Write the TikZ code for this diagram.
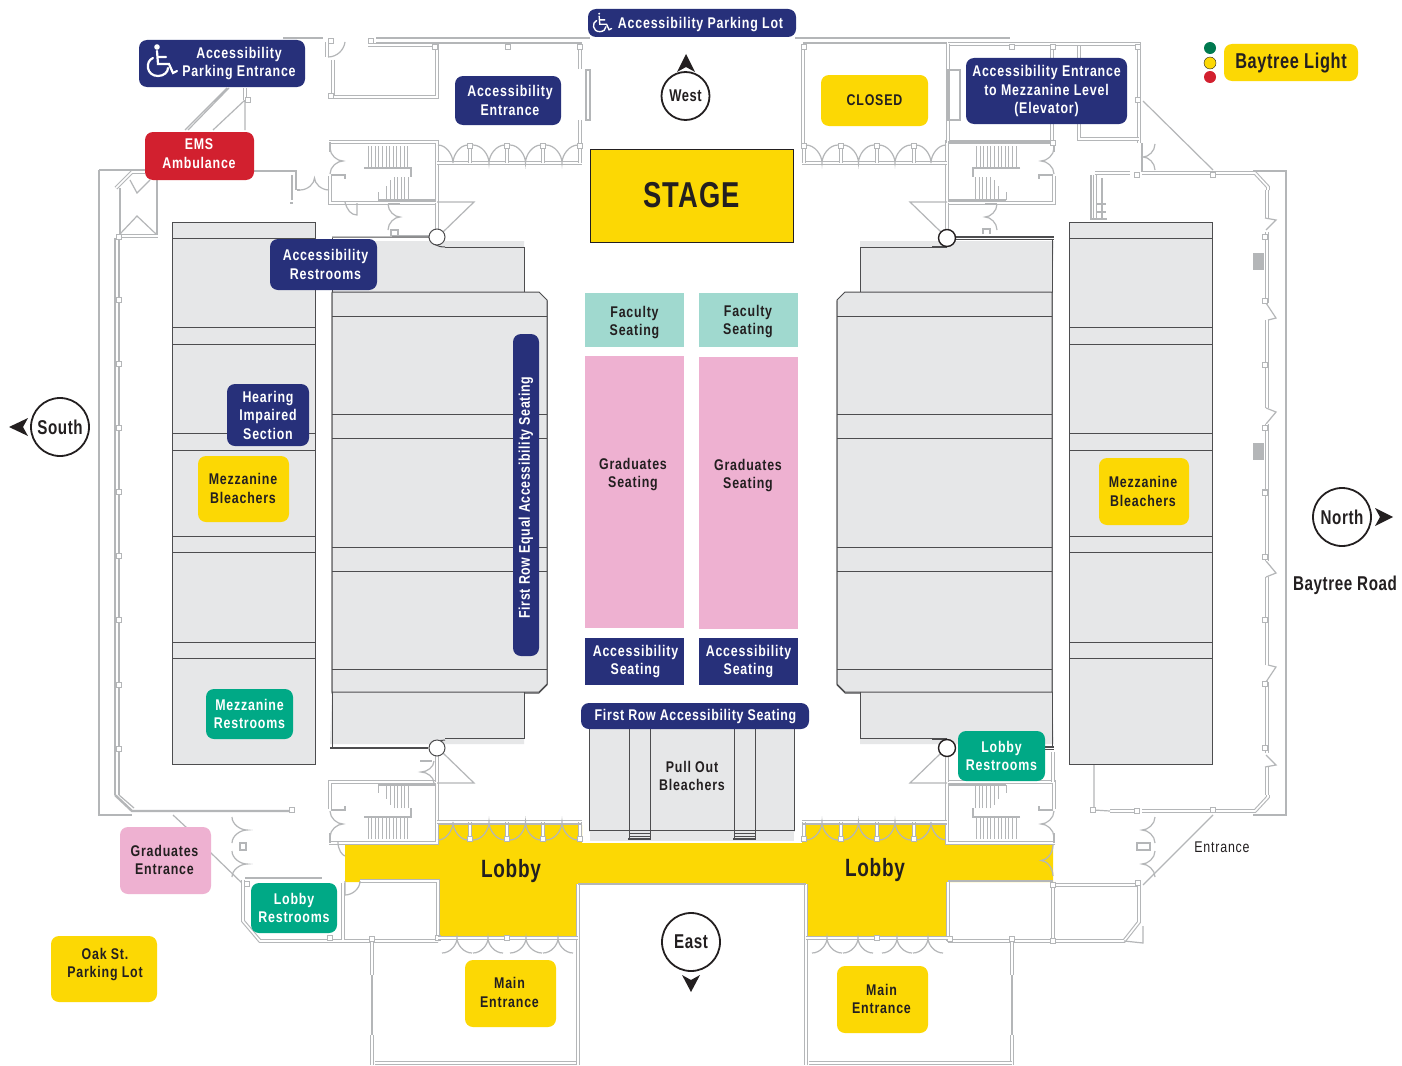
\documentclass[tikz,border=0pt]{standalone}
\usepackage{fontspec}
\setmainfont[FakeStretch=0.8,LetterSpace=5.2]{Liberation Sans}
\newfontfamily\bigf[FakeStretch=0.76,LetterSpace=3]{Liberation Sans}
\newfontfamily\longf[FakeStretch=0.8,LetterSpace=4.2]{Liberation Sans}
\definecolor{wallc}{HTML}{B4B6B8}
\definecolor{blockf}{HTML}{E6E7E8}
\definecolor{blockl}{HTML}{4D4D4F}
\definecolor{navy}{HTML}{27307A}
\definecolor{sunny}{HTML}{FCD804}
\definecolor{redc}{HTML}{D2202F}
\definecolor{tealc}{HTML}{00A986}
\definecolor{pinkc}{HTML}{EEB1D1}
\definecolor{mintc}{HTML}{A0D9CF}
\definecolor{inkc}{HTML}{231F20}
\definecolor{greenc}{HTML}{00794F}
\tikzset{
  wall/.style={draw=wallc,line width=1.1pt,double=white,double distance=1.6pt,line join=miter},
  thinw/.style={draw=wallc,line width=1.2pt},
  fatw/.style={draw=wallc,line width=2.4pt},
  block/.style={fill=blockf,draw=blockl,line width=1pt},
  blockln/.style={draw=blockl,line width=1pt},
  lab/.style={rounded corners=8pt,inner sep=0pt,align=center,font=\fontsize{15.5}{18.5}\selectfont\bfseries},
  navyb/.style={lab,fill=navy,text=white},
  yelb/.style={lab,fill=sunny,text=inkc},
  redb/.style={lab,fill=redc,text=white},
  tealb/.style={lab,fill=tealc,text=white},
  pinkb/.style={lab,fill=pinkc,text=inkc},
  plain/.style={lab,rounded corners=0pt,text=inkc},
  compass/.style={circle,draw=inkc,fill=white,line width=1.8pt,inner sep=0pt,text=inkc,font=\bigf\fontsize{20}{20}\selectfont\bfseries},
  txt/.style={inner sep=0pt,text=inkc,align=center,font=\fontsize{15.5}{18.5}\selectfont\bfseries}
}
\newcommand\lab[7]{%
  \pgfmathsetmacro\lw{#5-#3}\pgfmathsetmacro\lh{#6-#4}%
  \pgfmathsetmacro\lx{(#3+#5)/2}\pgfmathsetmacro\ly{(#4+#6)/2}%
  \node[#2,minimum width=\lw pt,minimum height=\lh pt] (#1) at (\lx,\ly) {#7};}
\newcommand\hd[4]{% door pair: x0 x1 yhinge ycusp
  \pgfmathsetmacro\xm{(#1+#2)/2}%
  \pgfmathsetmacro\aa{#1+0.55*(\xm-#1)}\pgfmathsetmacro\bb{#2-0.55*(#2-\xm)}%
  \pgfmathsetmacro\cc{#4+0.45*(#3-#4)}%
  \draw[thinw] (#1,#3) .. controls (\aa,#3) and (\xm,\cc) .. (\xm,#4)
     .. controls (\xm,\cc) and (\bb,#3) .. (#2,#3);}
\newcommand\vd[4]{% door pair: y0 y1 xhinge xcusp
  \pgfmathsetmacro\ym{(#1+#2)/2}%
  \pgfmathsetmacro\aa{#1+0.55*(\ym-#1)}\pgfmathsetmacro\bb{#2-0.55*(#2-\ym)}%
  \pgfmathsetmacro\cc{#4+0.45*(#3-#4)}%
  \draw[thinw] (#3,#1) .. controls (#3,\aa) and (\cc,\ym) .. (#4,\ym)
     .. controls (\cc,\ym) and (#3,\bb) .. (#3,#2);}
\newcommand\pil[2]{\draw[thinw,fill=white] (#1-2.5,#2-2.5) rectangle (#1+2.5,#2+2.5);}
% one corner block of the hall: stair room, door row, pivot circle
\newcommand\Quad{%
  \draw[wall] (329,142)--(437,142)--(437,203)--(330,203)--(330,176);
  \draw[thinw] (330,142)--(330,152);
  \foreach \x in {368,371.6,...,408.5}{\draw[thinw,line width=.9pt] (\x,146)--(\x,168);}
  \draw[thinw] (364,168)--(411,168)--(411,177);
  \foreach \x in {394,397.6,...,411}{\draw[thinw,line width=.9pt] (\x,177)--(\x,200);}
  \draw[thinw,line width=.9pt] (390,200)--(390,180) (386,200)--(386,186) (378,200)--(378,192);
  \draw[fatw] (378,200)--(436,200);
  \vd{148}{174}{330}{343}
  \draw[thinw] (331,175)--(345,175)--(345,179);
  \draw[wall] (437,203)--(437,230);
  \draw[thinw] (437,202)--(474,202)--(443,232);
  \draw[wall] (437,163)--(582,163);
  \foreach \x in {470,507,543}{\draw[wall] (\x,145)--(\x,163); \pil{\x}{146}}
  \draw[wall] (580,145)--(580,163);
  \pil{580}{146}
  \hd{438}{468}{145}{163}
  \hd{473}{505}{145}{163}
  \hd{510}{541}{145}{163}
  \hd{546}{578}{145}{163}
}
\newcommand\InnerBlock{%
  \fill[blockf] (330,241)--(524,241)--(524,293)--(332,293)--cycle;
  \draw[block] (332,293)--(539,293)--(547,301)--(547,685)--(539,693)--(332,693)--cycle;
  \draw[blockln] (332,316)--(547,316) (332,414)--(547,414) (332,438)--(547,438)
     (332,547)--(547,547) (332,571)--(547,571) (332,669)--(547,669);
  \draw[blockln] (445,247)--(524,247)--(524,293) (332,238)--(332,293);
}
\newcommand\Bleachers{%
  \draw[block] (172,222) rectangle (315,764);
  \foreach \y in {238,327,344,433,450,536,552,642,658}{\draw[blockln] (172,\y)--(315,\y);}
}
\newcommand\RightWallHalf{%
  \draw[wall] (1267,190)--(1267,218);
  \draw[thinw] (1265,218)--(1276,220)--(1266,230);
  \draw[wall] (1267,232)--(1267,303);
  \draw[thinw] (1266,303)--(1276,318)--(1268,320);
  \draw[wall] (1267,320)--(1267,408);
  \draw[thinw] (1266,408)--(1276,412)--(1266,424);
  \draw[wall] (1267,424)--(1267,493);
  \foreach \y in {237,301,365,428,492}{\pil{1265}{\y}}
}
\newcommand\Wheel[3]{%
  \begin{scope}[shift={(#1,#2)},scale=#3,line width=#3*2.2pt,draw=white,line cap=round]
    \fill[white] (-3,-15) circle[radius=2.8pt*#3];
    \draw (-3,-11)--(-2,2)--(9,2)--(13,11)--(17,9) (-2,-5)--(6,-5);
    \draw (-7,-4) .. controls (-15,-1) and (-14,14) .. (-2,14) .. controls (4,14) and (8,10) .. (8,6);
  \end{scope}}
\begin{document}
\begin{tikzpicture}[x=1pt,y=-1pt]
\useasboundingbox (0,0) rectangle (1402,1065);
\fill[white] (0,0) rectangle (1402,1065);
% lobby floor
\fill[sunny] (345,843)--(438,843)--(438,825)--(582,825)--(582,843)--(802,843)--(802,825)--(947,825)--(947,843)--(1053,843)--(1053,882)--(947,882)--(947,937)--(807,937)--(807,884)--(578,884)--(578,937)--(438,937)--(438,882)--(345,882)--cycle;
% seating blocks
\Bleachers
\begin{scope}[shift={(1384,0)},xscale=-1]\Bleachers\end{scope}
\InnerBlock
\begin{scope}[shift={(1384,0)},xscale=-1]\InnerBlock\end{scope}
\begin{scope}[shift={(0,985)},yscale=-1]\InnerBlock\end{scope}
\begin{scope}[shift={(1384,985)},xscale=-1,yscale=-1]\InnerBlock\end{scope}
% hall corners
\Quad
\begin{scope}[shift={(1384,0)},xscale=-1]\Quad\end{scope}
\begin{scope}[shift={(0,985)},yscale=-1]\Quad\end{scope}
\begin{scope}[shift={(1384,985)},xscale=-1,yscale=-1]\Quad\end{scope}
% odd doors around the stair rooms
\vd{204}{230}{388}{400}
\draw[thinw] (388,204)--(400,204) (391,236)--(391,230)--(398,230)--(398,236) (392,236)--(430,236);
\vd{204}{230}{997}{985}
\draw[thinw] (997,204)--(985,204) (983,234)--(983,229)--(990,229)--(990,234);
\vd{761}{783}{434}{421}
\draw[thinw] (420,761)--(432,761);
\draw[thinw] (345,202) .. controls (347,210) and (351,215) .. (357,215)--(357,203);
\draw[thinw] (338,842) .. controls (338,850) and (342,855) .. (345,856);
\vd{845}{876}{1053}{1041}
\draw[wall] (1053,752)--(1053,782);
\draw[wall] (947,762)--(947,782);
\draw[fatw] (438,824)--(582,824) (802,824)--(947,824);
% curved notches at pivots
\draw[blockln] (332,237)--(429,237) .. controls (432,244) and (437,247) .. (445,247);
\draw[blockln,line width=1.6pt] (330,748)--(428,748);
\draw[blockln] (429,748) .. controls (432,743) and (438,740) .. (445,740);
\draw[blockln,line width=2pt,double=white,double distance=.8pt] (955,238)--(1054,238);
\draw[blockln,line width=2pt,double=white,double distance=.8pt] (1045,748)--(1054,748);
\draw[blockln,line width=1.5pt] (932,247)--(947,247) (932,739)--(947,739);
\draw[draw=blockl,fill=white,line width=1pt] (437,237) circle[radius=8pt];
\draw[draw=blockl,fill=white,line width=1pt] (437,748) circle[radius=8pt];
\draw[draw=inkc,fill=white,line width=1.4pt] (947,238) circle[radius=8.5pt];
\draw[draw=inkc,fill=white,line width=1.4pt] (947,748) circle[radius=8.5pt];
% top walls
\draw[thinw] (283,38)--(323,38);
\draw[fatw] (376,38)--(590,38) (795,38)--(1010,38);
\draw[thinw] (376,43)--(582,43) (803,43)--(947,43);
\draw[wall] (327,42)--(327,57);
\draw[wall] (333,60)--(333,97)--(437,97)--(437,45)--(368,45);
\draw[thinw] (328,57) .. controls (337,57) and (344,50) .. (345,42);
\pil{331}{41} \pil{371}{41} \pil{435}{47} \pil{331}{96} \pil{508}{47}
\draw[wall] (580,45)--(580,69) (580,120)--(580,143) (803,45)--(803,143);
\draw[thinw] (586,70) rectangle (590,120);
\pil{580}{47} \pil{804}{47}
% right upper wing
\draw[wall] (948,44)--(1139,44)--(1139,143);
\draw[wall] (948,44)--(948,143);
\draw[thinw] (948,70) rectangle (960,120);
\draw[thinw] (948,142)--(1056,142);
\draw[wall] (1052,124)--(1052,142);
\draw[wall] (1079,46)--(1079,58);
\draw[wall] (1052,46)--(1052,58);
\draw[wall] (1079,124)--(1079,139)--(1139,139);
\pil{1012}{47} \pil{1053}{47} \pil{1138}{47} \pil{1138}{100} \pil{1053}{143}
\draw[thinw] (1143,101)--(1213,170);
\vd{144}{170}{1155}{1143}
\draw[thinw] (1142,143)--(1142,172);
\draw[wall] (1142,173)--(1255,173)--(1268,187)--(1268,190);
\draw[wall] (1095,173)--(1130,173);
\draw[thinw] (1253,171)--(1286,171)--(1286,815)--(1253,815);
\draw[wall] (1095,175)--(1095,218);
\draw[thinw] (1091,175)--(1091,219)--(1107,219) (1096,204)--(1106,204) (1096,212)--(1106,212) (1102,178)--(1102,219);
\pil{1137}{175} \pil{1213}{175}
\fill[wallc] (1253,253) rectangle (1264,270);
\fill[wallc] (1253,443) rectangle (1264,460);
\RightWallHalf
\begin{scope}[shift={(0,985)},yscale=-1]\RightWallHalf\end{scope}
% right lower wing
\draw[wall] (1142,811)--(1255,811)--(1268,797)--(1268,795);
\draw[wall] (1110,811)--(1138,811);
\draw[thinw] (1094,765)--(1094,810)--(1110,811);
\pil{1093}{810} \pil{1137}{811} \pil{1213}{810}
\draw[thinw] (1213,815)--(1143,885);
\vd{817}{843}{1155}{1142}
\vd{851}{877}{1155}{1142}
\draw[thinw] (1137,843) rectangle (1150,850);
\draw[fatw,line width=1.6pt] (948,881)--(1053,881);
\draw[wall] (1053,885)--(1139,885)--(1139,922)--(1124,941)--(948,941);
\draw[thinw] (1124,941)--(1143,943)--(1143,926);
\draw[wall] (1053,885)--(1053,941);
\draw[wall] (948,882)--(948,941);
\draw[wall] (1012,942)--(1012,975);
\draw[thinw] (1012,975)--(1012,1035);
\draw[wall] (1012,1035)--(1012,1065);
\pil{1138}{883} \pil{1053}{885} \pil{1053}{941} \pil{1012}{939} \pil{950}{939}
% left outer walls
\draw[thinw] (99,170)--(99,815)--(132,815);
\draw[thinw] (99,170)--(145,170);
\draw[wall] (116,188)--(132,172)--(145,172);
\draw[thinw] (120,188)--(120,235) (157,180)--(157,235);
\draw[thinw] (120,234)--(137,216)--(156,234) (130,180)--(137,193)--(150,180);
\draw[wall] (117,236)--(158,236);
\draw[fatw] (115,238)--(115,795);
\draw[thinw] (119,238)--(119,795);
\draw[fatw] (115,795)--(132,811)--(293,811);
\draw[thinw] (119,795)--(134,808);
\foreach \y in {237,300,364,428,492,556,620,685,749}{\pil{119}{\y}}
\pil{292}{810}
\draw[thinw] (173,815)--(187,828) (210,852)--(243,884);
\draw[thinw] (185,130)--(227,88) (188,130)--(229,88);
\draw[thinw] (213,130)--(245,100)--(245,130);
\draw[wall] (245,88)--(245,100);
\pil{248}{100}
\draw[thinw] (254,171)--(296,171)--(296,190);
\draw[thinw] (292,175)--(292,200) (290,203)--(293,203);
\hd{300}{329}{190}{178}
\draw[thinw] (297,190)--(300,190);
% left lower walls
\vd{817}{843}{232}{247}
\vd{851}{877}{232}{247}
\draw[thinw] (240,843) rectangle (246,850);
\draw[wall] (243,880)--(243,921)--(260,941)--(438,941);
\draw[thinw] (245,878)--(322,878);
\draw[wall] (343,883)--(343,940);
\draw[wall] (360,881)--(438,881)--(438,938);
\draw[thinw] (345,881)--(345,894) (345,895) .. controls (352,895) and (360,889) .. (360,881);
\pil{247}{884} \pil{330}{938} \pil{438}{938} \pil{372}{939}
% main entrances
\draw[wall] (372,942)--(372,975);
\draw[thinw] (372,975)--(372,1035);
\draw[wall] (372,1035)--(372,1065);
\draw[wall] (375,1063)--(578,1063);
\draw[wall] (578,884)--(578,1065);
\draw[wall] (806,884)--(806,1065);
\draw[wall] (809,1063)--(1012,1063);
\draw[thinw] (578,884)--(806,884);
\draw[wall] (438,938)--(578,938);
\draw[wall] (806,938)--(948,938);
\hd{442}{472}{953}{938}
\hd{473}{503}{953}{938}
\hd{510}{542}{953}{938}
\hd{543}{573}{953}{938}
\hd{812}{842}{953}{938}
\hd{843}{873}{953}{938}
\hd{882}{912}{953}{938}
\hd{913}{943}{953}{938}
\pil{507}{938} \pil{877}{938}
% pull-out bleachers
\fill[blockf] (589,729) rectangle (795,832);
\fill[blockf] (590,830) rectangle (794,841);
\draw[blockln] (589,729)--(589,830)--(794,830)--(794,729);
\draw[blockln] (629,729)--(629,838) (650,729)--(650,838) (734,729)--(734,838) (755,729)--(755,838);
\draw[blockln] (629,833)--(650,833) (734,833)--(755,833) (629,836)--(650,836) (734,836)--(755,836);
\draw[blockln,line width=1.6pt] (628,839)--(651,839) (733,839)--(756,839);
% coloured floor areas and labels
\lab{stage}{yelb,rounded corners=0pt,draw=inkc,line width=1pt,font=\bigf\fontsize{36}{36}\selectfont\bfseries}{590}{149}{793}{242}{STAGE}
\lab{lotp}{navyb}{588}{9}{796}{37}{}
\node[txt,text=white] (lott) at (700.5,24.5) {Accessibility Parking Lot};
\lab{pent}{navyb}{139}{40}{305}{87}{\hspace*{34pt}Accessibility\\\hspace*{34pt}Parking Entrance}
\lab{aent}{navyb}{455}{76}{561}{125}{\hspace*{4pt}Accessibility\\\hspace*{4pt}Entrance}
\lab{ems}{redb}{145}{132}{254}{180}{}
\node[txt,text=white] (emst) at (199,153.5) {EMS\\Ambulance};
\lab{closed}{yelb}{821}{75}{928}{126}{CLOSED}
\lab{mezzent}{navyb}{966}{58}{1127}{124}{Accessibility Entrance\\to Mezzanine Level\\(Elevator)}
\lab{blight}{yelb}{1224}{44}{1358}{81}{}
\node[txt,font=\bigf\fontsize{21.5}{22}\selectfont\bfseries] (blightt) at (1291,63) {Baytree Light};
\lab{arest}{navyb}{270}{239}{377}{290}{\hspace*{4pt}Accessibility\\\hspace*{4pt}Restrooms}
\lab{hear}{navyb}{227}{384}{309}{446}{Hearing\\Impaired\\Section}
\lab{mbl}{yelb}{198}{456}{289}{522}{}
\node[txt] (mblt) at (243,488.5) {Mezzanine\\Bleachers};
\lab{mbr}{yelb}{1099}{458}{1189}{525}{}
\node[txt] (mbrt) at (1143,491.5) {Mezzanine\\Bleachers};
\lab{mrest}{tealb}{206}{689}{293}{739}{Mezzanine\\Restrooms}
\lab{facl}{plain,fill=mintc}{585}{293}{684}{347}{}
\lab{facr}{plain,fill=mintc}{699}{293}{798}{347}{}
\node[txt] (faclt) at (634.5,322.5) {Faculty\\Seating};
\node[txt] (facrt) at (748,321.5) {Faculty\\Seating};
\lab{gradl}{plain,fill=pinkc}{585}{356}{684}{628}{}
\lab{gradr}{plain,fill=pinkc}{699}{357}{798}{629}{}
\node[txt] (gradlt) at (633,474.5) {Graduates\\Seating};
\node[txt] (gradrt) at (748,475.5) {Graduates\\Seating};
\lab{asl}{navyb,rounded corners=0pt}{585}{638}{684}{685}{\hspace*{2pt}Accessibility\\\hspace*{2pt}Seating}
\lab{asr}{navyb,rounded corners=0pt}{699}{638}{798}{685}{Accessibility\\Seating}
\lab{frow}{navyb}{581}{703}{809}{729}{}
\node[txt,text=white,font=\longf\fontsize{15.5}{18.5}\selectfont\bfseries] (frowt) at (695.5,717) {First Row Accessibility Seating};
\node[navyb,rotate=90,minimum width=322pt,minimum height=26pt,font=\longf\fontsize{15.5}{18.5}\selectfont\bfseries] (frontrow) at (526,495) {\hspace*{-5pt}First Row Equal Accessibility Seating};
\node[txt] (pull) at (692,776) {Pull Out\\Bleachers};
\lab{lrr}{tealb}{958}{731}{1045}{781}{}
\node[txt,text=white] (lrrt) at (1001.5,756) {Lobby\\Restrooms};
\lab{lrl}{tealb}{251}{883}{337}{933}{}
\node[txt,text=white] (lrlt) at (294,908) {Lobby\\Restrooms};
\lab{grent}{pinkb}{120}{827}{211}{894}{}
\node[txt] (grentt) at (164.5,860) {Graduates\\Entrance};
\lab{oak}{yelb}{51}{936}{157}{1002}{}
\node[txt] (oakt) at (105,964.5) {Oak St.\\Parking Lot};
\lab{mel}{yelb}{465}{960}{556}{1027}{}
\node[txt] (melt) at (509.5,992.5) {Main\\Entrance};
\lab{mer}{yelb}{837}{966}{928}{1033}{}
\node[txt] (mert) at (881.5,999) {Main\\Entrance};
\node[txt,font=\bigf\fontsize{25}{26}\selectfont\bfseries] (lobl) at (511,871) {Lobby};
\node[txt,font=\bigf\fontsize{25}{26}\selectfont\bfseries] (lobr) at (875,870) {Lobby};
\node[txt,font=\bigf\fontsize{20}{21}\selectfont\bfseries] (broad) at (1345,585) {Baytree Road};
\node[txt,font=\fontsize{15.5}{18}\selectfont] (ent) at (1222,847) {Entrance};
% traffic light
\fill[greenc] (1210,48) circle[radius=6pt];
\draw[inkc,line width=.4pt,fill=sunny] (1210,63) circle[radius=6pt];
\fill[redc] (1210,77) circle[radius=6pt];
% compass
\node[compass,minimum size=48pt,font=\bigf\fontsize{17}{18}\selectfont\bfseries] (west) at (685.5,96) {West};
\node[compass,minimum size=58pt] (south) at (60,427) {South};
\node[compass,minimum size=58pt] (north) at (1342,517) {North};
\node[compass,minimum size=58pt] (east) at (691,942) {East};
\fill[inkc] (686,54)--(695,72)--(686,67)--(677,72)--cycle;
\fill[inkc] (9,427)--(28,418)--(23,427)--(28,436)--cycle;
\fill[inkc] (1393,517)--(1375,508)--(1380,517)--(1375,526)--cycle;
\fill[inkc] (691,992)--(682,975)--(691,980)--(700,975)--cycle;
% wheelchair icons
\Wheel{160}{62}{1}
\Wheel{601}{23}{0.62}
\end{tikzpicture}
\end{document}
